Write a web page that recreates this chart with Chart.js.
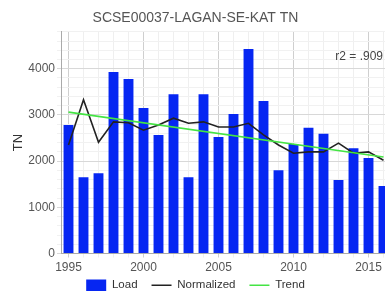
<!DOCTYPE html>
<html><head><meta charset="utf-8">
<script src="https://cdn.jsdelivr.net/npm/chart.js@4"></script>
<style>html,body{margin:0;padding:0;overflow:hidden;background:#fff}#wrap{width:410px;height:293px}</style>
</head><body><div id="wrap"><canvas id="c" width="410" height="293"></canvas></div>
<script>
const titleText = 'SCSE00037-LAGAN-SE-KAT TN';
const r2Text = 'r2 = .909';
const yAxisTitle = 'TN';
const years = ['1995','1996','1997','1998','1999','2000','2001','2002','2003','2004','2005','2006','2007','2008','2009','2010','2011','2012','2013','2014','2015','2016'];
const load = [2780,1650,1740,3930,3780,3150,2565,3450,1650,3450,2520,3020,4430,3300,1800,2370,2720,2590,1590,2280,2065,1460];
const normalized = [2350,3330,2410,2850,2830,2670,2780,2930,2820,2850,2740,2740,2820,2570,2350,2170,2200,2200,2390,2170,2200,2020];
const trendYears = ['1995','2016'];
const trendValues = [3060,2090];
const yLabelStep = 1000;
const yMax = 4800;
const FONT = '"Liberation Sans", Arial, sans-serif';

const r2Plugin = {
  id: 'r2',
  afterDatasetsDraw(chart) {
    const {ctx, chartArea} = chart;
    ctx.save();
    ctx.font = '12px ' + FONT;
    ctx.fillStyle = '#444';
    ctx.textAlign = 'right';
    ctx.textBaseline = 'middle';
    ctx.fillText(r2Text, chartArea.right - 8, chartArea.top + 25);
    ctx.restore();
  }
};

new Chart(document.getElementById('c'), {
  data: {
    labels: years,
    datasets: [
      {type:'line', label:'Trend', data: trendYears.map((y,i)=>({x:y, y:trendValues[i]})), borderColor:'#44e444', backgroundColor:'#44e444', borderWidth:1.6, pointRadius:0, order:1, pointStyle:'line'},
      {type:'line', label:'Normalized', data: normalized, borderColor:'#222', backgroundColor:'#222', borderWidth:1.6, pointRadius:0, tension:0, order:2, pointStyle:'line'},
      {type:'bar', label:'Load', data: load, backgroundColor:'#0626f2', borderWidth:0, barPercentage:0.66, categoryPercentage:1, order:3, pointStyle:'rect'}
    ]
  },
  options: {
    responsive:false, animation:false,
    layout:{padding:{left:0,right:19,top:0,bottom:-8}},
    plugins:{
      title:{display:true, text:titleText, color:'#555', font:{family:FONT, size:14, weight:'normal'}, padding:{top:10,bottom:5}},
      legend:{position:'bottom', reverse:true, labels:{usePointStyle:true, pointStyleWidth:20, boxHeight:12, color:'#333', padding:14, font:{family:FONT, size:11.5}}},
      tooltip:{enabled:false}
    },
    scales:{
      x:{type:'category', offset:true,
        afterFit:(s)=>{s.height=12; s._computeLabelArea=()=>undefined;},
        grid:{offset:false, color:(c)=>{const l=years[c.index]; return (l && +l%5===0)?'#cfcfcf':'#efefef';}, drawTicks:true, tickLength:4},
        border:{color:'#aaa'},
        ticks:{autoSkip:false, maxRotation:0, color:'#555', padding:3, font:{family:FONT, size:12}, callback:(v,i)=> (+years[i]%5===0)?years[i]:''}
      },
      y:{min:0, max:yMax,
        afterFit:(s)=>{s.width=61;},
        grid:{color:(c)=> (c.tick && c.tick.value%yLabelStep===0)?'#d8d8d8':'#f1f1f1', tickLength:4},
        border:{color:'#aaa'},
        title:{display:true, text:yAxisTitle, color:'#333', font:{family:FONT, size:13}, padding:{top:11,bottom:0}},
        ticks:{stepSize:200, maxTicksLimit:100, autoSkip:false, color:'#555', padding:2, font:{family:FONT, size:12}, callback:(v)=> (v%yLabelStep===0)?v:''}
      }
    }
  },
  plugins:[r2Plugin]
});
</script></body></html>
